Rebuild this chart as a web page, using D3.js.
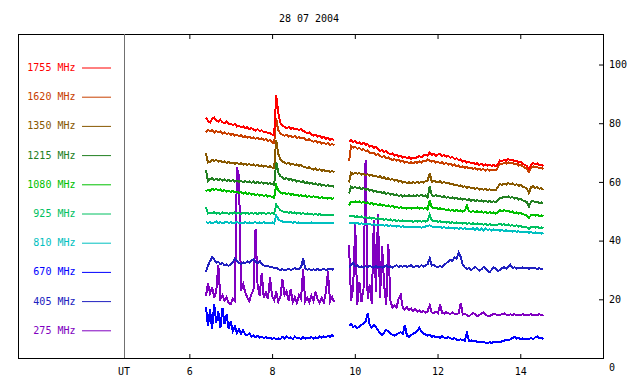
<!DOCTYPE html>
<html>
<head>
<meta charset="utf-8">
<script src="https://cdn.jsdelivr.net/npm/d3@7"></script>
<style>
  body { margin: 0; background: #fff; }
  svg { display: block; }
  text { font-family: "DejaVu Sans Mono", monospace; font-size: 10px; }
</style>
</head>
<body>
<svg id="chart"></svg>
<script>
// --- data ---
const title = '28 07 2004';
const freqLabels = ['1755 MHz', '1620 MHz', '1350 MHz', '1215 MHz', '1080 MHz',
                    '925 MHz', '810 MHz', '670 MHz', '405 MHz', '275 MHz'];
const hourTicks = [6, 8, 10, 12, 14];
const levelTicks = [0, 20, 40, 60, 80, 100];

// two recording windows, sampled every 0.05 h
const seg1Start = 6.40, seg2Start = 9.86, sampleStep = 0.05;

const f1755a = [82.0, 80.8, 80.2, 81.5, 81.9, 81.0, 80.6, 81.2, 80.3, 80.0,
  80.6, 79.7, 79.9, 79.3, 79.8, 78.9, 79.2, 78.6, 78.9, 78.3,
  78.7, 77.9, 78.4, 77.8, 77.5, 78.0, 77.3, 77.6, 76.9, 77.2,
  76.5, 76.8, 76.1, 75.8, 89.5, 83.5, 80.2, 79.1, 78.8, 78.3,
  78.7, 78.0, 78.4, 77.9, 78.2, 77.6, 78.1, 77.4, 77.0, 76.5,
  76.9, 76.2, 75.8, 76.1, 75.4, 75.7, 75.0, 75.3, 74.7, 75.0,
  74.4, 74.7, 74.1];
const f1755b = [73.8, 74.3, 73.6, 74.0, 73.2, 73.5, 72.9, 73.3, 72.6, 72.9,
  72.1, 72.4, 71.6, 71.9, 71.1, 70.6, 70.9, 70.2, 70.5, 69.8,
  69.4, 69.7, 69.0, 69.3, 68.6, 68.9, 68.3, 68.6, 68.1, 68.4,
  67.9, 68.3, 68.0, 68.5, 68.8, 68.4, 69.0, 69.3, 68.9, 70.1,
  69.2, 69.6, 68.9, 69.3, 69.5, 68.8, 69.2, 68.6, 68.9, 68.2,
  68.5, 67.8, 68.1, 67.4, 67.7, 67.0, 67.3, 66.6, 66.9, 66.3,
  66.6, 66.0, 66.4, 65.8, 66.2, 65.6, 66.0, 65.5, 65.9, 65.4,
  65.8, 65.3, 66.2, 67.3, 67.0, 67.6, 67.2, 67.8, 67.3, 67.5,
  67.0, 67.2, 66.6, 66.8, 66.2, 65.8, 65.4, 64.5, 65.8, 66.4,
  66.0, 66.3, 65.7, 65.9, 65.3];

const f1620a = [77.0, 77.8, 77.2, 77.6, 76.8, 77.3, 76.9, 77.2, 76.5, 76.9,
  76.3, 76.6, 76.0, 76.4, 75.8, 76.1, 75.6, 75.9, 75.3, 75.6,
  75.1, 75.4, 74.9, 75.2, 74.7, 75.0, 74.5, 74.8, 74.3, 74.6,
  74.0, 74.2, 73.5, 73.2, 81.8, 77.5, 76.6, 76.0, 75.7, 76.1,
  75.5, 75.8, 75.2, 75.6, 75.0, 75.3, 74.8, 75.1, 74.5, 74.2,
  74.6, 74.0, 73.7, 74.0, 73.4, 73.7, 73.1, 73.4, 72.9, 73.2,
  72.6, 72.9, 72.5];
const f1620b = [67.0, 72.2, 71.7, 72.0, 71.3, 71.6, 70.9, 71.2, 70.5, 70.8,
  70.0, 69.7, 69.9, 69.2, 69.5, 68.8, 68.5, 68.8, 68.1, 68.4,
  67.8, 67.5, 67.8, 67.2, 67.5, 66.9, 67.2, 66.6, 66.9, 66.4,
  66.7, 66.3, 66.8, 66.5, 67.0, 66.6, 67.2, 67.0, 67.6, 67.3,
  66.9, 67.2, 66.6, 66.9, 66.3, 66.7, 66.1, 66.5, 65.9, 66.2,
  65.6, 65.9, 65.3, 65.6, 65.0, 65.3, 64.8, 65.1, 64.6, 64.9,
  64.4, 64.7, 64.2, 64.5, 64.1, 64.4, 63.9, 64.3, 63.8, 64.2,
  63.9, 64.0, 65.0, 66.3, 66.0, 66.6, 66.2, 66.7, 66.3, 66.5,
  66.0, 66.2, 65.6, 65.8, 65.3, 64.8, 64.5, 63.4, 65.0, 65.3,
  64.9, 65.1, 64.6, 64.8, 64.3];

const f1350a = [69.8, 66.6, 66.9, 67.6, 67.2, 67.5, 66.9, 67.2, 66.7, 67.0,
  66.5, 66.8, 66.3, 66.6, 66.2, 66.5, 66.0, 66.4, 65.9, 66.2,
  65.8, 66.1, 65.7, 66.0, 65.5, 65.8, 65.3, 65.6, 65.2, 65.5,
  65.0, 65.3, 64.9, 64.7, 74.3, 69.5, 67.6, 67.0, 66.6, 66.2,
  66.5, 65.9, 66.2, 65.7, 66.0, 65.5, 65.8, 65.2, 65.0, 64.7,
  65.0, 64.5, 64.2, 64.6, 64.0, 64.3, 63.8, 64.1, 63.6, 63.9,
  63.4, 63.7, 63.3];
const f1350b = [59.8, 63.1, 62.7, 63.2, 62.8, 63.0, 62.5, 62.8, 62.3, 62.6,
  62.1, 62.4, 61.9, 62.1, 61.6, 61.9, 61.3, 61.6, 61.0, 61.3,
  60.7, 61.0, 60.4, 60.7, 60.1, 60.4, 59.8, 60.1, 59.6, 59.9,
  59.5, 59.9, 59.6, 60.0, 59.7, 60.1, 59.8, 60.2, 60.4, 63.0,
  60.0, 60.4, 60.1, 59.8, 60.2, 59.7, 60.0, 59.5, 59.7, 59.2,
  59.4, 58.9, 59.1, 58.6, 58.8, 58.3, 58.5, 58.0, 58.3, 57.8,
  58.1, 57.6, 57.9, 57.4, 57.7, 57.3, 57.6, 57.2, 57.5, 57.1,
  57.4, 57.2, 58.4, 59.2, 59.0, 59.4, 59.1, 59.6, 59.2, 59.5,
  59.0, 59.2, 58.7, 58.9, 58.4, 58.1, 57.8, 56.2, 58.2, 58.5,
  58.0, 58.2, 57.7, 57.9, 57.3];

const f1215a = [64.1, 60.3, 60.9, 61.3, 60.7, 61.1, 60.6, 61.0, 60.4, 60.8,
  60.3, 60.7, 60.2, 60.6, 60.1, 60.5, 60.0, 60.4, 59.9, 60.3,
  59.8, 60.2, 59.7, 60.1, 59.6, 60.0, 59.5, 59.9, 59.4, 59.8,
  59.3, 59.6, 59.2, 59.0, 66.8, 63.2, 62.0, 61.5, 61.0, 61.3,
  60.7, 61.0, 60.4, 60.7, 60.1, 60.4, 59.9, 60.2, 59.6, 59.9,
  59.4, 59.7, 59.2, 59.5, 59.0, 59.3, 58.8, 59.1, 58.6, 58.9,
  58.4, 58.7, 58.3];
const f1215b = [56.0, 58.4, 58.0, 58.3, 57.8, 58.1, 57.6, 57.9, 57.3, 57.6,
  57.0, 57.3, 56.7, 57.0, 56.4, 56.7, 56.2, 56.5, 55.9, 56.2,
  55.7, 56.0, 55.4, 55.7, 55.2, 55.5, 55.0, 55.4, 55.1, 55.5,
  55.0, 55.4, 55.1, 55.5, 55.2, 55.6, 55.1, 55.4, 54.6, 58.4,
  55.5, 55.2, 55.5, 55.0, 55.3, 54.8, 55.1, 54.6, 54.9, 54.4,
  54.7, 54.3, 54.6, 54.1, 54.4, 54.0, 54.3, 53.8, 54.1, 53.6,
  53.9, 53.5, 53.8, 53.4, 53.7, 53.3, 53.6, 53.2, 53.5, 53.1,
  53.4, 53.0, 53.8, 54.4, 54.6, 55.0, 54.7, 55.1, 54.6, 54.8,
  54.3, 54.5, 54.0, 54.2, 53.7, 53.4, 53.1, 51.6, 53.3, 53.5,
  53.1, 53.3, 52.8, 53.0, 52.6];

const f1080a = [56.8, 57.3, 57.0, 57.7, 57.3, 57.6, 57.1, 57.4, 56.9, 57.2,
  56.7, 57.0, 56.6, 56.9, 56.4, 56.7, 56.2, 56.5, 56.0, 56.4,
  55.9, 56.2, 55.7, 56.0, 55.5, 55.8, 55.3, 55.6, 55.2, 55.5,
  55.0, 55.3, 54.8, 54.6, 58.9, 57.2, 56.5, 56.0, 56.3, 55.8,
  56.1, 55.6, 55.9, 55.4, 55.7, 55.2, 55.5, 55.1, 55.4, 54.9,
  55.2, 54.8, 55.1, 54.7, 54.9, 54.5, 54.8, 54.4, 54.7, 54.3,
  54.6, 54.2, 54.5];
const f1080b = [52.0, 53.3, 53.0, 53.4, 53.0, 53.3, 52.9, 53.2, 52.7, 53.0,
  52.5, 52.8, 52.3, 52.6, 52.1, 52.4, 51.9, 52.2, 51.7, 52.0,
  51.5, 51.8, 51.3, 51.6, 51.1, 51.4, 51.0, 51.3, 50.9, 51.2,
  50.9, 51.3, 51.0, 51.3, 50.9, 51.2, 50.9, 51.2, 50.6, 53.8,
  51.3, 51.0, 51.2, 50.8, 51.0, 50.6, 50.8, 50.4, 50.6, 50.2,
  50.5, 50.1, 50.4, 50.0, 50.3, 49.9, 50.2, 52.0, 50.0, 49.8,
  50.1, 49.7, 50.0, 49.6, 49.9, 49.5, 49.8, 49.4, 49.7, 49.3,
  49.6, 49.2, 49.7, 50.3, 50.0, 50.4, 50.0, 50.2, 49.7, 49.9,
  49.4, 49.6, 49.2, 49.4, 49.0, 48.8, 48.5, 47.8, 48.6, 48.9,
  48.5, 48.8, 48.4, 48.6, 48.3];

const f925a = [51.4, 49.2, 49.6, 49.3, 49.7, 49.2, 49.5, 49.1, 49.6, 49.3,
  49.5, 49.1, 49.4, 49.2, 49.6, 49.2, 49.4, 49.1, 49.5, 49.2,
  49.4, 49.1, 49.5, 49.2, 49.4, 49.1, 49.5, 49.2, 49.4, 49.1,
  49.4, 49.2, 49.3, 49.1, 52.3, 51.2, 50.4, 50.0, 49.7, 49.9,
  49.5, 49.7, 49.3, 49.6, 49.2, 49.5, 49.1, 49.4, 49.0, 49.3,
  48.9, 49.2, 48.8, 49.1, 48.8, 49.0, 48.7, 48.9, 48.6, 48.9,
  48.6, 48.8, 48.5];
const f925b = [48.5, 48.2, 48.5, 48.1, 48.3, 47.9, 48.2, 47.8, 48.0, 47.6,
  47.9, 47.5, 47.7, 47.4, 47.6, 47.2, 47.5, 47.1, 47.3, 46.9,
  47.2, 46.8, 47.0, 46.7, 46.9, 46.6, 46.9, 46.5, 46.8, 46.5,
  46.8, 46.4, 46.7, 46.5, 46.8, 46.4, 46.7, 46.5, 46.8, 48.8,
  47.0, 46.6, 46.8, 46.4, 46.6, 46.2, 46.5, 46.1, 46.4, 46.0,
  46.3, 45.9, 46.2, 45.9, 46.1, 45.8, 46.1, 45.7, 46.0, 45.7,
  45.9, 45.6, 45.9, 45.5, 45.8, 45.4, 45.7, 45.3, 45.6, 45.2,
  45.5, 45.2, 45.5, 45.7, 45.4, 45.6, 45.2, 45.5, 45.1, 45.3,
  44.9, 45.2, 44.8, 45.0, 44.6, 44.8, 44.5, 44.0, 44.6, 44.8,
  44.4, 44.7, 44.3, 44.5, 44.2];

const f810a = [46.4, 46.0, 46.3, 45.9, 46.2, 46.5, 46.0, 46.3, 45.9, 46.2,
  46.4, 46.0, 46.3, 45.9, 46.1, 46.4, 46.0, 46.2, 45.9, 46.3,
  46.0, 46.2, 45.9, 46.1, 46.3, 45.9, 46.2, 46.0, 46.3, 45.9,
  46.1, 46.0, 46.2, 45.9, 48.6, 47.3, 46.8, 46.5, 46.3, 46.5,
  46.2, 46.4, 46.1, 46.3, 46.0, 46.2, 46.0, 46.1, 45.9, 46.1,
  46.0, 46.2, 45.9, 46.1, 46.0, 46.1, 45.9, 46.1, 46.0, 46.1,
  45.9, 46.1, 46.0];
const f810b = [46.2, 45.9, 46.1, 45.8, 46.0, 45.7, 45.9, 45.6, 45.8, 45.5,
  45.7, 45.4, 45.6, 45.3, 45.5, 45.2, 45.4, 45.1, 45.3, 45.0,
  45.2, 44.9, 45.1, 44.8, 45.0, 44.7, 44.9, 44.6, 44.8, 44.5,
  44.7, 44.5, 44.7, 44.5, 44.7, 44.4, 44.6, 44.8, 45.0, 45.2,
  44.8, 44.6, 44.8, 44.5, 44.7, 44.4, 44.6, 44.3, 44.5, 44.2,
  44.4, 44.1, 44.3, 44.0, 44.3, 44.0, 44.2, 43.9, 44.1, 43.8,
  44.2, 43.6, 44.3, 43.5, 44.1, 43.4, 44.2, 43.6, 43.9, 43.4,
  43.8, 43.5, 43.7, 43.4, 43.6, 43.3, 43.5, 43.2, 43.4, 43.1,
  43.3, 43.0, 43.2, 42.9, 43.1, 42.8, 43.0, 42.7, 42.9, 42.6,
  42.8, 42.5, 42.7, 42.4, 42.6];

const f670a = [17.5, 11.0, 16.5, 9.8, 18.5, 12.0, 15.8, 10.2, 17.0, 11.5,
  14.8, 10.0, 12.5, 9.2, 10.8, 8.6, 9.9, 8.3, 9.5, 8.0,
  7.8, 8.4, 7.3, 7.7, 7.1, 7.5, 6.9, 7.3, 6.8, 7.1,
  6.7, 7.0, 6.5, 6.9, 6.3, 6.7, 6.4, 7.2, 6.6, 7.4,
  6.8, 7.0, 6.5, 7.3, 6.7, 6.9, 6.4, 7.1, 6.6, 6.9,
  6.7, 7.2, 6.6, 7.0, 6.8, 7.3, 6.9, 7.4, 7.0, 7.6,
  7.2, 7.8, 7.3];
const f670b = [11.0, 11.5, 10.6, 10.9, 10.2, 10.7, 11.3, 11.8, 12.4, 15.3,
  11.2, 10.4, 11.3, 10.5, 9.4, 8.6, 7.8, 8.7, 9.6, 9.0,
  8.4, 7.9, 7.6, 8.1, 8.4, 8.8, 8.2, 11.2, 7.6, 7.2,
  7.8, 8.3, 8.6, 9.3, 10.2, 9.1, 8.4, 8.0, 7.6, 7.9,
  7.2, 7.5, 7.0, 7.3, 6.9, 7.4, 7.0, 6.8, 7.1, 6.7,
  6.5, 6.8, 6.3, 6.1, 6.4, 6.0, 5.9, 8.5, 5.8, 6.0,
  5.7, 5.9, 5.5, 5.6, 5.3, 5.5, 5.2, 5.0, 5.4, 5.1,
  5.5, 5.3, 5.6, 5.4, 5.7, 5.9, 6.2, 6.0, 6.4, 6.8,
  7.2, 6.6, 6.9, 6.4, 6.7, 6.3, 6.6, 6.5, 6.8, 6.4,
  7.0, 7.3, 6.7, 6.9, 6.5];

const f405a = [29.3, 31.5, 33.0, 34.3, 33.6, 32.5, 32.8, 32.0, 32.4, 31.6,
  31.9, 31.4, 32.0, 32.6, 33.8, 33.1, 32.4, 32.0, 32.6, 32.3,
  32.9, 32.5, 33.3, 33.6, 32.8, 32.3, 33.1, 32.0, 31.6, 31.2,
  31.5, 30.9, 31.0, 30.6, 30.8, 30.2, 30.0, 30.3, 29.9, 30.1,
  30.4, 30.0, 30.3, 30.6, 30.2, 30.4, 30.8, 34.0, 30.5, 30.1,
  30.3, 29.9, 30.2, 30.0, 30.3, 29.9, 30.1, 30.4, 30.0, 30.2,
  30.5, 30.1, 30.3];
const f405b = [31.0, 31.6, 32.5, 31.2, 31.6, 30.9, 31.2, 30.8, 31.3, 30.9,
  31.4, 31.0, 30.8, 31.3, 30.9, 31.2, 30.8, 31.1, 31.5, 30.9,
  31.2, 30.8, 31.3, 31.6, 31.0, 31.4, 31.1, 31.5, 31.0, 31.3,
  31.6, 30.9, 31.2, 31.4, 31.0, 31.6, 31.2, 31.5, 32.0, 34.0,
  31.5, 31.7, 31.2, 31.0, 31.3, 31.1, 31.6, 32.3, 32.9, 33.5,
  33.0, 34.4, 33.8, 36.0, 34.5, 31.8, 30.9, 30.3, 30.6, 29.9,
  30.5, 31.1, 30.4, 29.8, 30.2, 31.0, 30.6, 29.7, 29.3, 30.1,
  30.8, 30.4, 29.6, 30.0, 30.6, 30.9, 30.5, 31.0, 31.8, 30.7,
  30.9, 30.5, 30.8, 30.6, 30.9, 30.5, 30.7, 30.4, 30.8, 30.5,
  30.7, 30.3, 30.6, 30.2, 30.3];

const f275a = [21.0, 25.5, 22.0, 24.2, 20.5, 22.8, 31.8, 20.2, 21.5, 19.6,
  20.8, 18.7, 18.3, 20.2, 19.5, 65.0, 62.0, 23.0, 25.2, 22.4,
  20.6, 19.4, 21.8, 23.0, 44.0, 24.5, 21.2, 29.0, 20.4, 22.3,
  20.1, 27.4, 21.0, 19.6, 22.6, 19.2, 20.8, 26.8, 21.5, 22.8,
  19.6, 23.5, 19.0, 20.7, 18.8, 21.4, 20.0, 30.2, 19.2, 20.6,
  18.9, 21.3, 19.5, 22.6, 20.1, 18.8, 20.4, 19.0, 22.2, 29.5,
  19.3, 20.8, 19.1];
const f275b = [38.5, 19.5, 24.0, 45.5, 18.2, 26.0, 19.0, 23.5, 67.5, 20.0,
  25.0, 18.5, 47.0, 22.5, 49.0, 20.5, 38.0, 24.8, 18.0, 39.0,
  19.5, 17.2, 18.0, 17.1, 20.4, 21.5, 17.0, 16.5, 17.3, 16.3,
  16.9, 16.0, 16.7, 15.8, 16.2, 15.6, 16.0, 15.4, 15.9, 18.0,
  15.5, 15.3, 15.8, 15.2, 18.2, 15.4, 15.1, 15.6, 15.2, 15.0,
  15.5, 15.1, 14.9, 15.3, 18.7, 14.8, 15.1, 14.6, 14.2, 14.8,
  15.3, 14.9, 14.3, 14.6, 15.2, 15.5, 14.8, 14.4, 14.2, 14.7,
  15.1, 14.8, 14.5, 14.7, 15.0, 15.2, 14.8, 14.6, 14.9, 14.7,
  14.9, 14.6, 14.8, 14.7, 14.9, 14.6, 14.8, 14.7, 14.9, 14.6,
  14.8, 14.7, 14.9, 14.6, 14.7];

// same order as freqLabels
const lineColors = ['#ff0000', '#c84000', '#885800', '#228022', '#00c000',
                    '#00c060', '#00c0c0', '#0000ff', '#2020c0', '#8000c0'];

class RadioFluxChart {

    width = 640;
    height = 384;
    frame = { left: 18, top: 34, right: 603, bottom: 358 };
    divider = 124;
    x = d3.scaleLinear().domain([4.42, 16]).range([124, 603]);
    y = d3.scaleLinear().domain([0, 110.4]).range([358, 34]);

    constructor(selector) {
        this.svg = d3.select(selector)
            .attr('width', this.width)
            .attr('height', this.height);
    }

    buildChannels() {
        const segA = [f1755a, f1620a, f1350a, f1215a, f1080a, f925a, f810a, f670a, f405a, f275a];
        const segB = [f1755b, f1620b, f1350b, f1215b, f1080b, f925b, f810b, f670b, f405b, f275b];
        const toPoints = (vals, start) => vals.map((v, i) => ({ t: start + i * sampleStep, v: v }));
        return freqLabels.map((label, i) => ({
            label: label,
            color: lineColors[i],
            segments: [toPoints(segA[i], seg1Start), toPoints(segB[i], seg2Start)]
        }));
    }

    viewInit() {
        const svg = this.svg, f = this.frame;
        const channels = this.buildChannels();

        svg.append('rect').attr('width', this.width).attr('height', this.height).attr('fill', '#fff');

        svg.append('text')
            .attr('x', 309).attr('y', 21.5)
            .attr('text-anchor', 'middle')
            .text(title);

        // traces, lowest frequency first so 1755 ends on top
        const line = d3.line().x(d => this.x(d.t)).y(d => this.y(d.v));
        const traces = svg.append('g')
            .attr('fill', 'none')
            .attr('stroke-width', 2)
            .attr('shape-rendering', 'crispEdges');
        channels.slice().reverse().forEach(ch => {
            ch.segments.forEach(seg => {
                traces.append('path')
                    .datum(seg)
                    .attr('stroke', ch.color)
                    .attr('d', line);
            });
        });

        // axes (ticks point inward)
        const bottom = svg.append('g')
            .attr('transform', 'translate(0,' + f.bottom + ')')
            .call(d3.axisBottom(this.x).tickValues(hourTicks).tickSize(-4).tickSizeOuter(0).tickPadding(10));
        const top = svg.append('g')
            .attr('transform', 'translate(0,' + f.top + ')')
            .call(d3.axisTop(this.x).tickValues(hourTicks).tickSize(-5).tickSizeOuter(0).tickFormat(''));
        const right = svg.append('g')
            .attr('transform', 'translate(' + f.right + ',0)')
            .call(d3.axisRight(this.y).tickValues(levelTicks).tickSize(-4).tickSizeOuter(0).tickPadding(6));
        right.selectAll('.tick text').filter(d => d === 0).attr('dy', '1.2em');

        [bottom, top, right].forEach(g => {
            g.select('.domain').remove();
            g.selectAll('text').attr('font-family', '"DejaVu Sans Mono", monospace').attr('font-size', 10).attr('fill', '#000');
            g.selectAll('line').attr('stroke', '#000');
        });

        svg.append('text')
            .attr('x', this.divider).attr('y', 374.5)
            .attr('text-anchor', 'middle')
            .text('UT');

        // frame and divider
        svg.append('rect')
            .attr('x', f.left + 0.5).attr('y', f.top + 0.5)
            .attr('width', f.right - f.left).attr('height', f.bottom - f.top)
            .attr('fill', 'none').attr('stroke', '#000');
        svg.append('line')
            .attr('x1', this.divider + 0.5).attr('x2', this.divider + 0.5)
            .attr('y1', f.top).attr('y2', f.bottom)
            .attr('stroke', '#707070');

        // legend
        const legend = svg.append('g').selectAll('g')
            .data(channels)
            .enter()
            .append('g')
            .attr('transform', (d, i) => 'translate(0,' + (67.5 + i * 29.2) + ')');
        legend.append('text')
            .attr('x', 75.5)
            .attr('dy', '0.35em')
            .attr('text-anchor', 'end')
            .attr('fill', d => d.color)
            .text(d => d.label);
        legend.append('line')
            .attr('x1', 82).attr('x2', 111)
            .attr('y1', 0.5).attr('y2', 0.5)
            .attr('stroke', d => d.color);
    }
}

new RadioFluxChart('#chart').viewInit();
</script>
</body>
</html>
